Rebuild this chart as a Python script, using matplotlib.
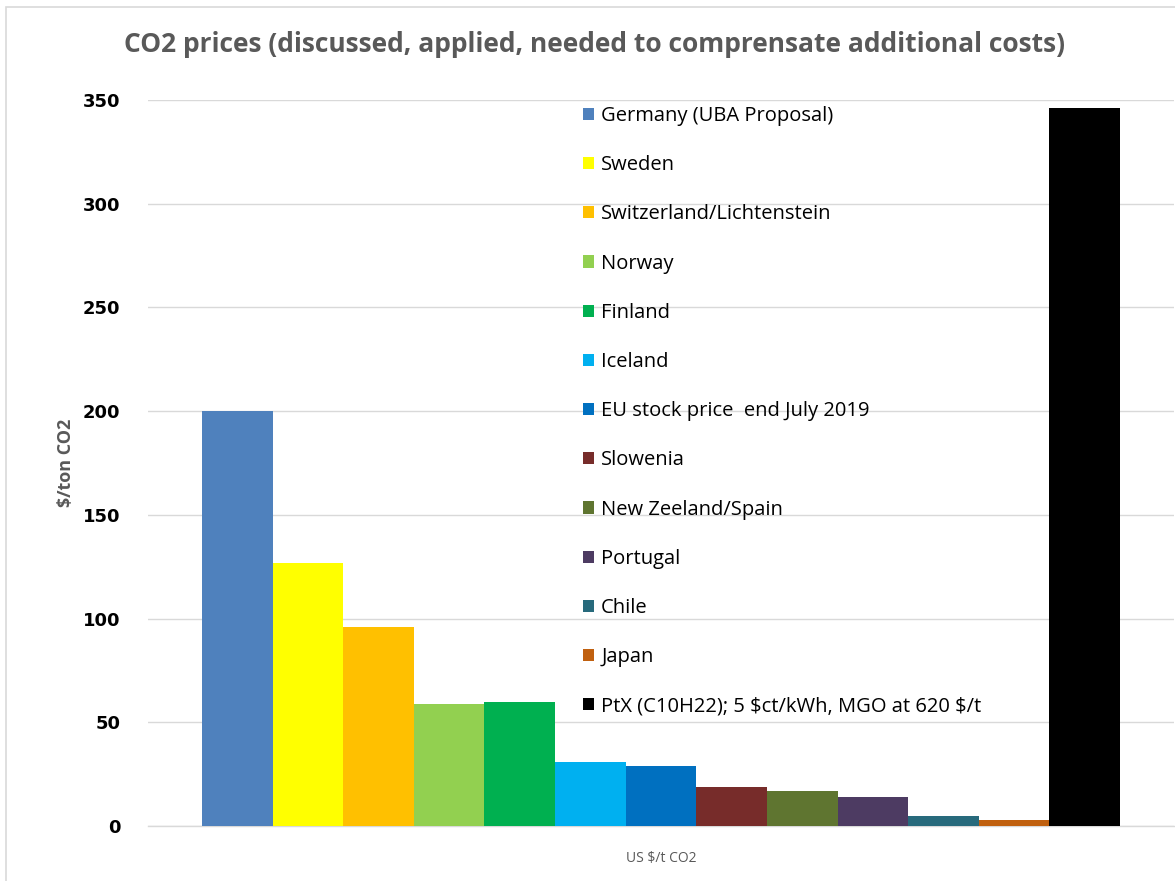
import numpy as np
import matplotlib.pyplot as plt
from matplotlib.patches import Rectangle

plt.rcParams["text.parse_math"] = False

# Precios de CO2 por país / escenario (US $/t CO2)
paises = [
    "Germany (UBA Proposal)", "Sweden", "Switzerland/Lichtenstein", "Norway",
    "Finland", "Iceland", "EU stock price  end July 2019", "Slowenia",
    "New Zeeland/Spain", "Portugal", "Chile", "Japan",
    "PtX (C10H22); 5 $ct/kWh, MGO at 620 $/t",
]
precios = [200, 127, 96, 59, 60, 31, 29, 19, 17, 14, 5, 3, 346]
colores = [
    "#4F81BD", "#FFFF00", "#FFC000", "#92D050", "#00B050", "#00B0F0",
    "#0070C0", "#772C2A", "#5F7530", "#4D3B62", "#276A7C", "#C0600F",
    "#000000",
]
categoria = "US $/t CO2"

fig = plt.figure(figsize=(11.75, 8.81), dpi=100)
W, H = 1175, 881

# Marco exterior gris claro
fig.patches.append(Rectangle((6 / W, -0.1), 1.2, 1 - 7 / H + 0.1,
                             transform=fig.transFigure, fill=False,
                             edgecolor="#D9D9D9", linewidth=1.2))

ax = fig.add_axes([148 / W, 1 - 826 / H, (1174 - 148) / W, (826 - 100) / H])

n = len(precios)
ancho_grupo = 918 / 1026
ancho = ancho_grupo / n
x = -ancho_grupo / 2 + ancho * (np.arange(n) + 0.5)
for xi, p, c, nombre in zip(x, precios, colores, paises):
    ax.bar(xi, p, width=ancho, color=c, label=nombre, zorder=3)

ax.set_xlim(-0.5, 0.5)
ax.set_ylim(0, 350)
ax.set_yticks(np.arange(0, 351, 50))
ax.set_xticks([0])
ax.set_xticklabels([categoria], fontsize=10, color="#595959", family="Open Sans")
ax.tick_params(axis="x", length=0, pad=18)
ax.tick_params(axis="y", length=0, pad=20)
for t in ax.get_yticklabels():
    t.set_fontweight("bold")
    t.set_fontsize(13)
    t.set_family("DejaVu Sans")
ax.grid(axis="y", color="#D9D9D9", linewidth=1, zorder=0)
for s in ["top", "right", "left"]:
    ax.spines[s].set_visible(False)
ax.spines["bottom"].set_color("#D9D9D9")
ax.spines["bottom"].set_linewidth(1)

ax.set_ylabel("$/ton CO2", fontsize=13, fontweight="bold", color="#595959",
              family="Open Sans")
ax.yaxis.set_label_coords(-(148 - 75) / 1026, 0.5)

fig.text(595 / W, 1 - 45 / H,
         "CO2 prices (discussed, applied, needed to comprensate additional costs)",
         ha="center", va="center", fontsize=19, fontweight="bold",
         color="#595959", family="Open Sans")

ax.legend(loc="upper left", bbox_to_anchor=((573 - 148) / 1026, 1 + 4 / 726),
          frameon=False, handlelength=0.55, handleheight=0.55,
          handletextpad=0.35, labelspacing=1.45, borderpad=0,
          prop={"family": "Open Sans", "size": 14.5})

fig.savefig("out.png", dpi=100, facecolor="white")
